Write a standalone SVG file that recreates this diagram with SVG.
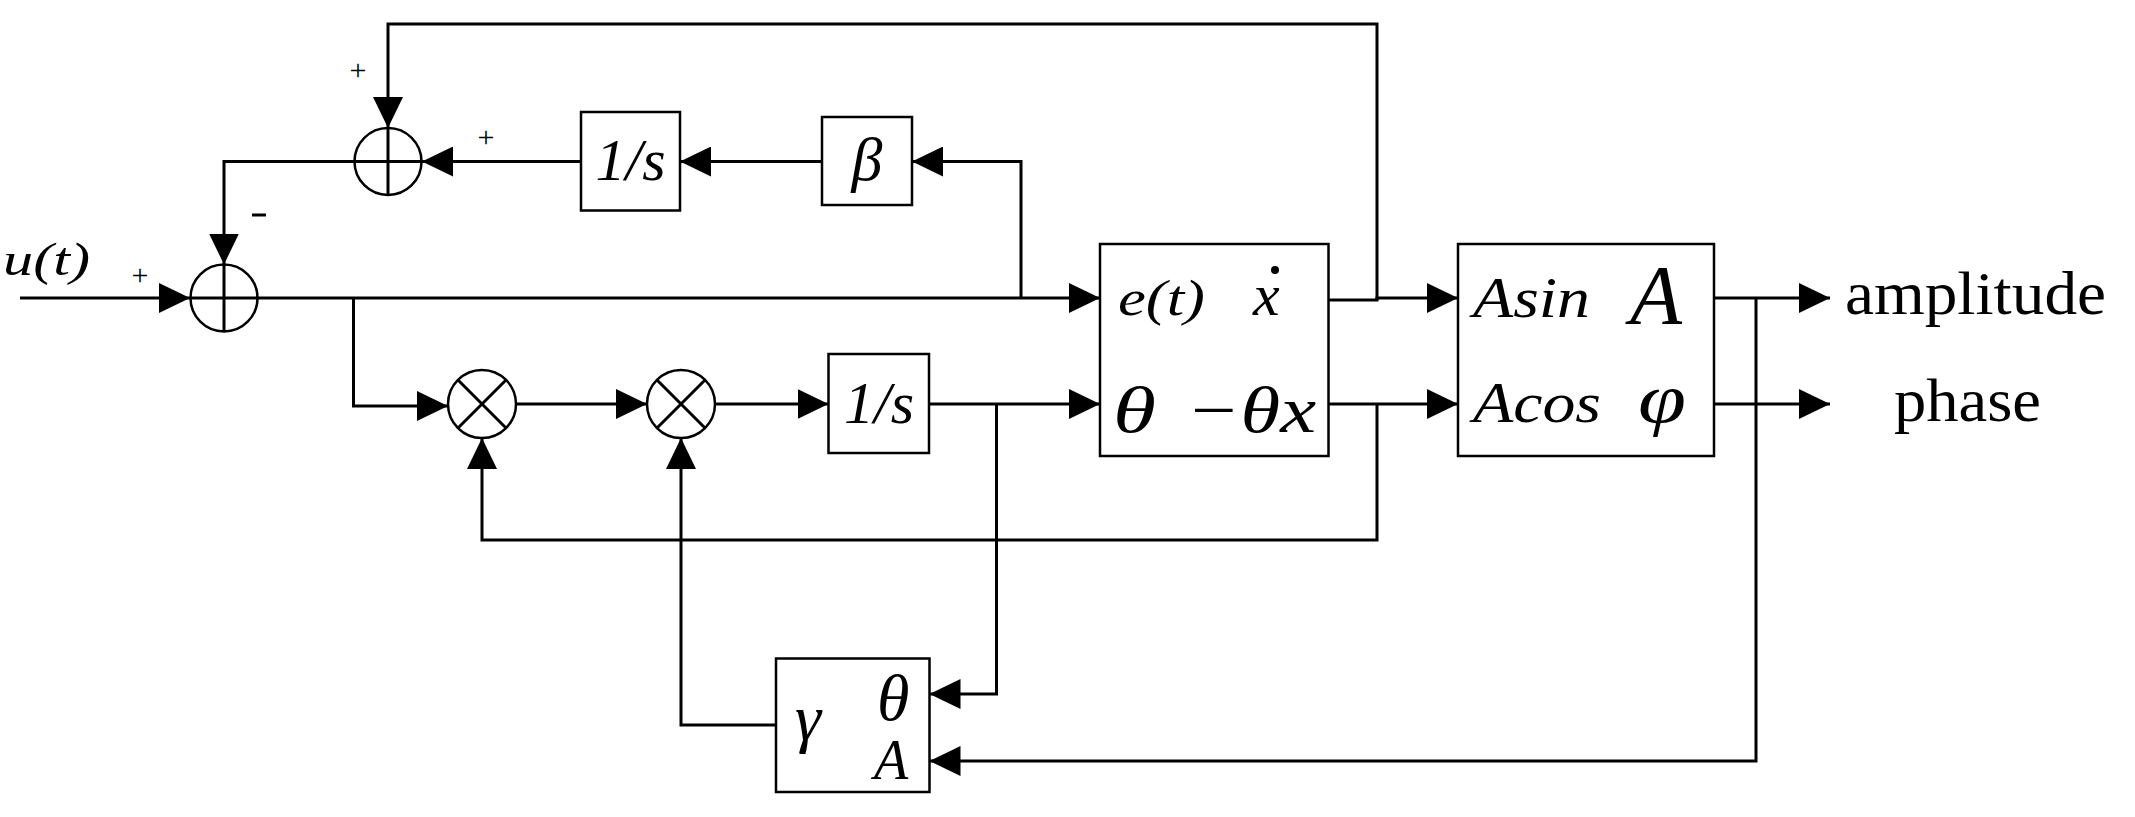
<svg xmlns="http://www.w3.org/2000/svg" width="2135" height="817" viewBox="0 0 2135 817">
<style>
.l{fill:none;stroke:#000;stroke-width:3}
.b{fill:#fff;stroke:#000;stroke-width:2.5}
.t{font-family:"Liberation Serif",serif;font-style:italic;fill:#000}
.r{font-family:"Liberation Serif",serif;fill:#000}
</style>
<defs>
<marker id="a" markerUnits="userSpaceOnUse" markerWidth="32" markerHeight="30" refX="31" refY="15" orient="auto"><path d="M0,0L31,15L0,30z" fill="#000"/></marker>
</defs>
<g id="connectors">
<path class="l" d="M20,298H190" marker-end="url(#a)"/>
<path class="l" d="M258,298H1100" marker-end="url(#a)"/>
<path class="l" d="M1021,298V161.5H912" marker-end="url(#a)"/>
<path class="l" d="M822,161.5H680" marker-end="url(#a)"/>
<path class="l" d="M581,161.5H422" marker-end="url(#a)"/>
<path class="l" d="M354.5,161.5H224V264.5" marker-end="url(#a)"/>
<path class="l" d="M1377,300V24H388V128" marker-end="url(#a)"/>
<path class="l" d="M1328,300H1377V298H1458" marker-end="url(#a)"/>
<path class="l" d="M1328,404H1377V404H1458" marker-end="url(#a)"/>
<path class="l" d="M1377,404V540H482V438" marker-end="url(#a)"/>
<path class="l" d="M353.5,298V406H448" marker-end="url(#a)"/>
<path class="l" d="M516,404H647" marker-end="url(#a)"/>
<path class="l" d="M715,404H828.5" marker-end="url(#a)"/>
<path class="l" d="M929,404H1100" marker-end="url(#a)"/>
<path class="l" d="M996.5,404V694H929.5" marker-end="url(#a)"/>
<path class="l" d="M776,725H681V438" marker-end="url(#a)"/>
<path class="l" d="M1714,298H1830" marker-end="url(#a)"/>
<path class="l" d="M1714,404H1830" marker-end="url(#a)"/>
<path class="l" d="M1756,298V761H929.5" marker-end="url(#a)"/>
</g>
<g id="sum1"><circle class="b" cx="388" cy="161.5" r="33.5"/><path class="l" d="M354.5,161.5H421.5M388,128V195"/></g>
<g id="sum2"><circle class="b" cx="224" cy="298" r="33.5"/><path class="l" d="M190.5,298H257.5M224,264.5V331.5"/></g>
<g id="mul1"><circle class="b" cx="482" cy="404" r="34"/><path class="l" d="M458,380L506,428M506,380L458,428"/></g>
<g id="mul2"><circle class="b" cx="681" cy="404" r="34"/><path class="l" d="M657,380L705,428M705,380L657,428"/></g>
<g id="int1"><rect class="b" x="581" y="112" width="99" height="98.5"/><text class="t" x="630.5" y="180" font-size="60" text-anchor="middle" textLength="70" lengthAdjust="spacingAndGlyphs">1/s</text></g>
<g id="beta"><rect class="b" x="822" y="117" width="90" height="88"/><text class="t" x="867" y="180" font-size="62" text-anchor="middle">β</text></g>
<g id="int2"><rect class="b" x="828.5" y="354" width="100.5" height="99"/><text class="t" x="879" y="423" font-size="60" text-anchor="middle" textLength="70" lengthAdjust="spacingAndGlyphs">1/s</text></g>
<g id="gamma"><rect class="b" x="776" y="658.5" width="153.5" height="133.5"/>
<text class="t" x="795" y="740" font-size="66">γ</text>
<text class="t" x="877" y="720" font-size="66">θ</text>
<text class="t" x="874" y="779" font-size="56">A</text></g>
<g id="osc"><rect class="b" x="1100" y="244" width="228.5" height="212"/>
<text class="t" x="1118" y="315" font-size="50" textLength="87" lengthAdjust="spacingAndGlyphs">e(t)</text>
<text class="t" x="1253" y="315" font-size="60">x</text><circle cx="1275" cy="270" r="4" fill="#000"/>
<text class="t" x="1113" y="432" font-size="66" textLength="43" lengthAdjust="spacingAndGlyphs">θ</text>
<text class="t" x="1186" y="432" font-size="66" textLength="130" lengthAdjust="spacingAndGlyphs">−θx</text></g>
<g id="polar"><rect class="b" x="1458" y="244" width="256" height="212"/>
<text class="t" x="1473" y="317" font-size="56" textLength="117" lengthAdjust="spacingAndGlyphs">Asin</text>
<text class="t" x="1630" y="324" font-size="84" textLength="52" lengthAdjust="spacingAndGlyphs">A</text>
<text class="t" x="1473" y="422" font-size="56" textLength="128" lengthAdjust="spacingAndGlyphs">Acos</text>
<text class="t" x="1638" y="422" font-size="70" textLength="48" lengthAdjust="spacingAndGlyphs">φ</text></g>
<g id="labels">
<text class="t" x="3" y="275" font-size="46" textLength="87" lengthAdjust="spacingAndGlyphs">u(t)</text>
<text class="r" x="2106" y="314" font-size="62" text-anchor="end" textLength="261" lengthAdjust="spacingAndGlyphs">amplitude</text>
<text class="r" x="1894" y="421" font-size="62" textLength="147" lengthAdjust="spacingAndGlyphs">phase</text>
<text class="r" x="140" y="285" font-size="30" text-anchor="middle">+</text>
<text class="r" x="358" y="80" font-size="30" text-anchor="middle">+</text>
<text class="r" x="486" y="147" font-size="30" text-anchor="middle">+</text>
<path d="M252,215H266" stroke="#000" stroke-width="3"/>
</g>
</svg>
